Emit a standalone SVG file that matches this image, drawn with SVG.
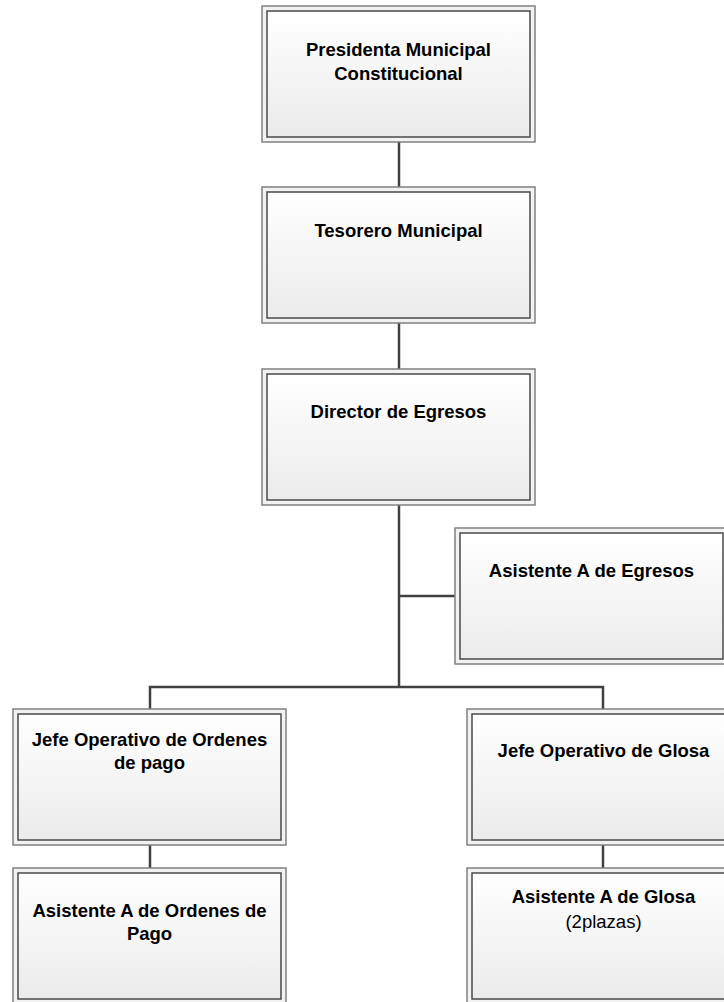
<svg xmlns="http://www.w3.org/2000/svg" width="724" height="1002" viewBox="0 0 724 1002">
<defs>
<linearGradient id="g" x1="0" y1="0" x2="0" y2="1">
<stop offset="0" stop-color="#ffffff"/>
<stop offset="1" stop-color="#ebebeb"/>
</linearGradient>
<style>
.o{fill:#f2f2f2;stroke:#808080;stroke-width:1.5}
.i{fill:url(#g);stroke:#4a4a4a;stroke-width:1.5}
.t{font-family:"Liberation Sans",Arial,sans-serif;font-size:18.5px;font-weight:bold;fill:#000;text-anchor:middle}
.r{font-weight:normal}
.c{stroke:#404040;stroke-width:2.5;fill:none}
</style>
</defs>
<rect width="724" height="1002" fill="#ffffff"/>
<g id="connectors">
<line class="c" x1="399" y1="142" x2="399" y2="187"/>
<line class="c" x1="399" y1="323" x2="399" y2="369"/>
<line class="c" x1="399" y1="505" x2="399" y2="687"/>
<line class="c" x1="399" y1="596" x2="455" y2="596"/>
<polyline class="c" points="150,709 150,687 603,687 603,709"/>
<line class="c" x1="150" y1="845" x2="150" y2="868"/>
<line class="c" x1="603" y1="845" x2="603" y2="868"/>
</g>
<g id="presidenta">
<rect class="o" x="262" y="6" width="273" height="136"/>
<rect class="i" x="267" y="11" width="263" height="126"/>
<text class="t" x="398.5" y="56">Presidenta Municipal</text>
<text class="t" x="398.5" y="80">Constitucional</text>
</g>
<g id="tesorero">
<rect class="o" x="262" y="187" width="273" height="136"/>
<rect class="i" x="267" y="192" width="263" height="126"/>
<text class="t" x="398.5" y="237">Tesorero Municipal</text>
</g>
<g id="director">
<rect class="o" x="262" y="369" width="273" height="136"/>
<rect class="i" x="267" y="374" width="263" height="126"/>
<text class="t" x="398.5" y="418">Director de Egresos</text>
</g>
<g id="asistente-egresos">
<rect class="o" x="455" y="528" width="273" height="136"/>
<rect class="i" x="460" y="533" width="263" height="126"/>
<text class="t" x="591.5" y="577">Asistente A de Egresos</text>
</g>
<g id="jefe-ordenes">
<rect class="o" x="13" y="709" width="273" height="136"/>
<rect class="i" x="18" y="714" width="263" height="126"/>
<text class="t" x="149.5" y="746">Jefe Operativo de Ordenes</text>
<text class="t" x="149.5" y="769">de pago</text>
</g>
<g id="jefe-glosa">
<rect class="o" x="467" y="709" width="273" height="136"/>
<rect class="i" x="472" y="714" width="263" height="126"/>
<text class="t" x="603.5" y="757">Jefe Operativo de Glosa</text>
</g>
<g id="asistente-ordenes">
<rect class="o" x="13" y="868" width="273" height="136"/>
<rect class="i" x="18" y="873" width="263" height="126"/>
<text class="t" x="149.5" y="917">Asistente A de Ordenes de</text>
<text class="t" x="149.5" y="940">Pago</text>
</g>
<g id="asistente-glosa">
<rect class="o" x="467" y="868" width="273" height="136"/>
<rect class="i" x="472" y="873" width="263" height="126"/>
<text class="t" x="603.5" y="903">Asistente A de Glosa</text>
<text class="t r" x="603.5" y="928">(2plazas)</text>
</g>
</svg>
